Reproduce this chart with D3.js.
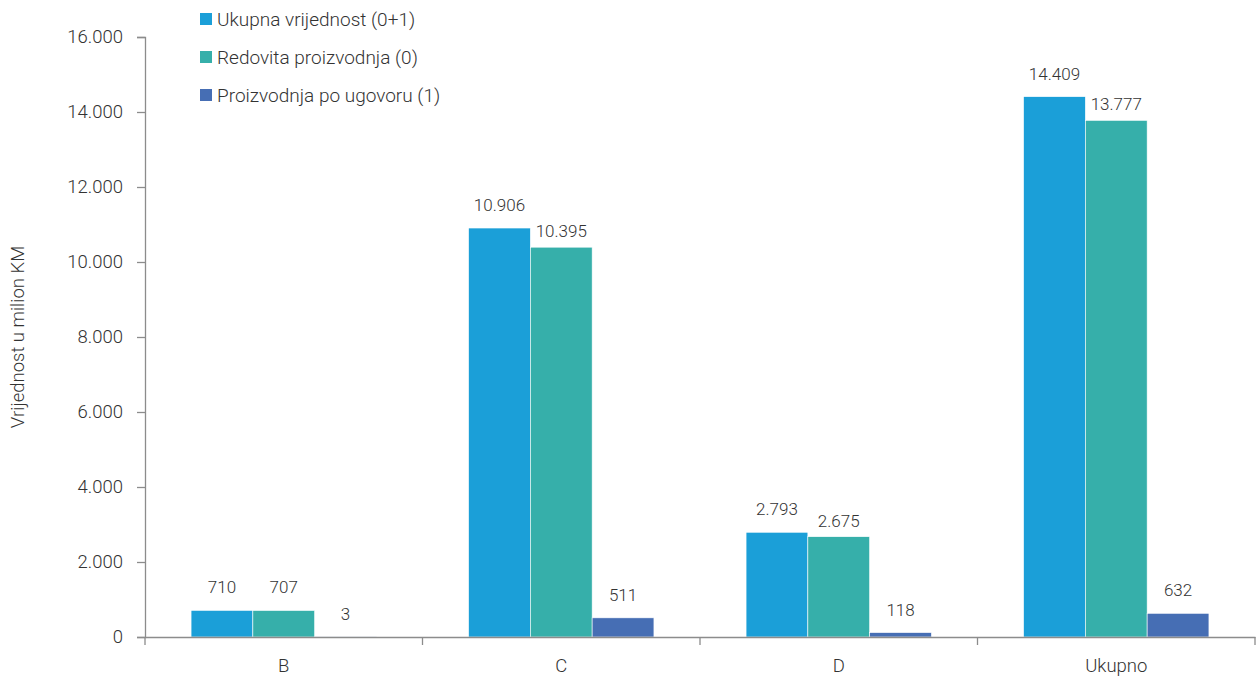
<!DOCTYPE html>
<html>
<head>
<meta charset="utf-8">
<script src="https://cdn.jsdelivr.net/npm/d3@7"></script>
<style>
  body { margin: 0; background: #fff; }
  text { font-family: Roboto, "Noto Sans", sans-serif; font-weight: 300; fill: #333; }
</style>
</head>
<body>
<script>

var categories = ['B', 'C', 'D', 'Ukupno'];
var seriesNames = ['Ukupna vrijednost (0+1)', 'Redovita proizvodnja (0)', 'Proizvodnja po ugovoru (1)'];
var ukupna = [710, 10906, 2793, 14409];
var redovita = [707, 10395, 2675, 13777];
var ugovor = [3, 511, 118, 632];
var yTicks = [0, 2000, 4000, 6000, 8000, 10000, 12000, 14000, 16000];
var colors = ['#1b9fd8', '#36afaa', '#466eb4'];

var values = [ukupna, redovita, ugovor];

var W = 1258, H = 681;
var mLeft = 145, mRight = 1255, mTop = 37, mBottom = 637;

var loc = d3.formatLocale({decimal: ',', thousands: '.', grouping: [3], currency: ['', '']});
var fmt = loc.format(',');

var svg = d3.select('body').append('svg')
    .attr('width', W)
    .attr('height', H);

var y = d3.scaleLinear().domain([0, 16000]).range([mBottom, mTop]);

var x0 = d3.scaleBand().domain(categories).range([mLeft, mRight]).padding(0);
var bw = x0.bandwidth();
var x1 = d3.scaleBand().domain(d3.range(3)).range([bw * 0.166, bw * 0.834]).padding(0);

// y axis
var yAxis = svg.append('g')
    .attr('transform', 'translate(' + mLeft + ',0)')
    .call(d3.axisLeft(y).tickValues(yTicks).tickFormat(fmt).tickSize(8).tickPadding(14));
yAxis.select('.domain').attr('stroke', '#8c8c8c').attr('stroke-width', 1.3);
yAxis.selectAll('.tick line').attr('stroke', '#8c8c8c').attr('stroke-width', 1.3);
yAxis.selectAll('.tick text').style('font-size', '18.5px').attr('fill', '#333');

// bars
var groups = svg.selectAll('.grp')
    .data(categories)
    .enter().append('g')
    .attr('class', 'grp')
    .attr('transform', function(d) { return 'translate(' + x0(d) + ',0)'; });

groups.selectAll('rect')
    .data(function(d, i) { return values.map(function(s, k) { return {k: k, v: s[i]}; }); })
    .enter().append('rect')
    .attr('x', function(d) { return x1(d.k); })
    .attr('y', function(d) { return y(d.v); })
    .attr('width', x1.bandwidth())
    .attr('height', function(d) { return mBottom - y(d.v); })
    .attr('fill', function(d) { return colors[d.k]; })
    .attr('stroke', '#fff')
    .attr('stroke-width', 0.6);

// value labels (green labels of wide numbers sit a bit lower, as in the original)
groups.selectAll('.vlab')
    .data(function(d, i) { return values.map(function(s, k) { return {k: k, v: s[i]}; }); })
    .enter().append('text')
    .attr('class', 'vlab')
    .attr('x', function(d) { return x1(d.k) + x1.bandwidth() / 2; })
    .attr('y', function(d) {
        var off = (d.k === 1 && d.v > 1000) ? 10 : 17;
        return y(d.v) - off;
    })
    .attr('text-anchor', 'middle')
    .style('font-size', '17px')
    .text(function(d) { return fmt(d.v); });

// x axis
var xAxis = svg.append('g')
    .attr('transform', 'translate(0,' + mBottom + ')')
    .call(d3.axisBottom(x0).tickSize(0).tickPadding(22));
xAxis.select('.domain').attr('stroke', '#8c8c8c').attr('stroke-width', 1.3);
xAxis.selectAll('.tick text').style('font-size', '18.5px').attr('fill', '#333');

var bounds = categories.map(function(c) { return x0(c); }).concat([mRight]);
xAxis.selectAll('.sep')
    .data(bounds)
    .enter().append('line')
    .attr('class', 'sep')
    .attr('x1', function(d) { return d; })
    .attr('x2', function(d) { return d; })
    .attr('y1', 0)
    .attr('y2', 8)
    .attr('stroke', '#8c8c8c')
    .attr('stroke-width', 1.3);

// y label
svg.append('text')
    .attr('transform', 'translate(24,' + ((mTop + mBottom) / 2) + ') rotate(-90)')
    .attr('text-anchor', 'middle')
    .style('font-size', '18.5px')
    .text('Vrijednost u milion KM');

// legend
var leg = svg.selectAll('.leg')
    .data(seriesNames)
    .enter().append('g')
    .attr('class', 'leg')
    .attr('transform', function(d, i) { return 'translate(200,' + (19 + i * 38) + ')'; });

leg.append('rect')
    .attr('x', 0).attr('y', -6)
    .attr('width', 12).attr('height', 12)
    .attr('fill', function(d, i) { return colors[i]; });

leg.append('text')
    .attr('x', 17).attr('y', 7)
    .style('font-size', '19px')
    .text(function(d) { return d; });

</script>
</body>
</html>
